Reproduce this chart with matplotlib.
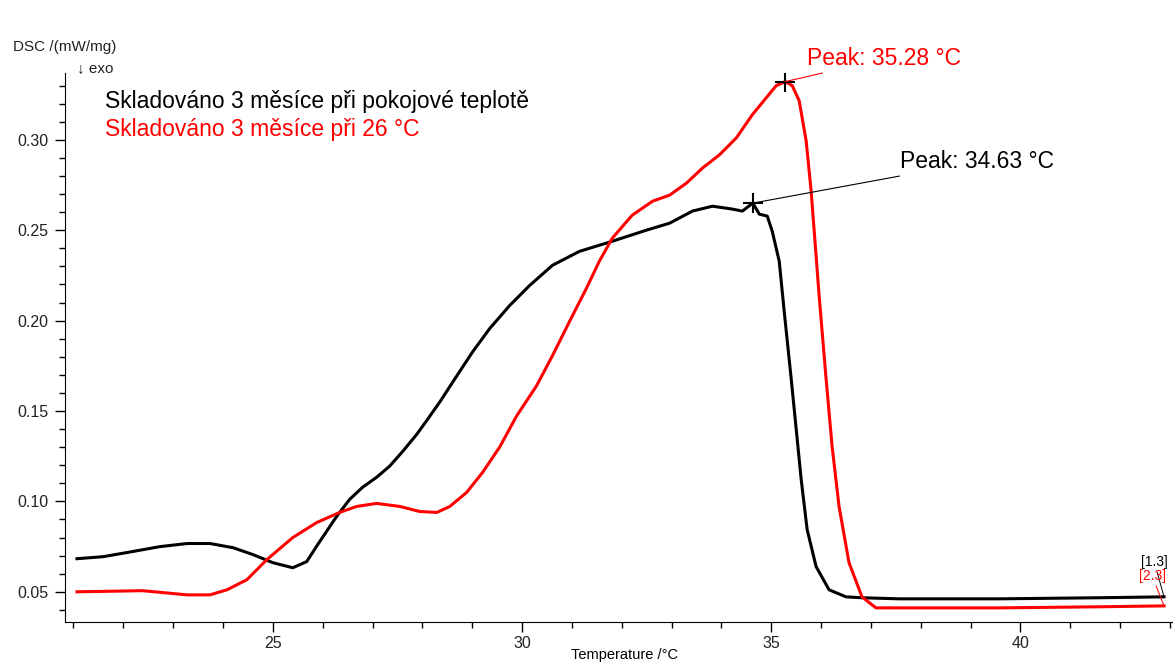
import matplotlib.pyplot as plt
from matplotlib.ticker import MultipleLocator

plt.rcParams['font.family'] = ['Liberation Sans', 'DejaVu Sans']

# DSC curves
temp_black = [21.07, 21.59, 22.07, 22.74, 23.28, 23.74, 24.20, 24.60, 25.00, 25.40,
              25.68, 25.90, 26.28, 26.54, 26.80, 27.08, 27.34, 27.61, 27.89, 28.11,
              28.35, 28.69, 29.01, 29.35, 29.75, 30.15, 30.61, 31.15, 31.81, 32.49,
              32.96, 33.42, 33.82, 34.22, 34.42, 34.63, 34.76, 34.92, 35.02, 35.16,
              35.26, 35.40, 35.50, 35.60, 35.72, 35.90, 36.16, 36.50, 36.82, 37.57,
              39.57, 41.57, 42.88]
dsc_black = [0.0683, 0.0694, 0.0717, 0.0750, 0.0767, 0.0767, 0.0744, 0.0706, 0.0661, 0.0633,
             0.0667, 0.0761, 0.0917, 0.1011, 0.1078, 0.1133, 0.1194, 0.1278, 0.1372, 0.1456,
             0.1550, 0.1694, 0.1828, 0.1956, 0.2083, 0.2194, 0.2306, 0.2383, 0.2439, 0.2500,
             0.2539, 0.2606, 0.2633, 0.2617, 0.2606, 0.2650, 0.2589, 0.2578, 0.2494, 0.2328,
             0.2050, 0.1678, 0.1400, 0.1122, 0.0844, 0.0639, 0.0511, 0.0472, 0.0467, 0.0461,
             0.0461, 0.0467, 0.0472]

temp_red = [21.07, 22.39, 23.28, 23.74, 24.08, 24.48, 24.88, 25.40, 25.88, 26.34,
            26.68, 27.08, 27.55, 27.95, 28.29, 28.55, 28.89, 29.21, 29.55, 29.89,
            30.29, 30.61, 30.95, 31.29, 31.55, 31.81, 32.21, 32.62, 32.96, 33.30,
            33.62, 33.96, 34.30, 34.62, 34.90, 35.10, 35.28, 35.42, 35.56, 35.70,
            35.80, 35.96, 36.10, 36.22, 36.36, 36.56, 36.82, 37.10, 37.57, 39.57,
            41.57, 42.88]
dsc_red = [0.0500, 0.0506, 0.0483, 0.0483, 0.0511, 0.0567, 0.0678, 0.0800, 0.0883, 0.0939,
           0.0972, 0.0989, 0.0972, 0.0944, 0.0939, 0.0972, 0.1050, 0.1161, 0.1300, 0.1472,
           0.1639, 0.1806, 0.1994, 0.2178, 0.2328, 0.2456, 0.2583, 0.2661, 0.2694, 0.2761,
           0.2844, 0.2917, 0.3011, 0.3139, 0.3233, 0.3300, 0.3322, 0.3300, 0.3217, 0.2994,
           0.2717, 0.2139, 0.1678, 0.1306, 0.0972, 0.0661, 0.0472, 0.0411, 0.0411, 0.0411,
           0.0417, 0.0422]

peak_black = (34.63, 0.2650)
peak_red = (35.28, 0.3322)

fig = plt.figure(figsize=(11.73, 6.67), dpi=100)
ax = fig.add_axes([0.0554, 0.0675, 0.9446, 0.8231])

ax.plot(temp_black, dsc_black, color='black', lw=2.2)
ax.plot(temp_red, dsc_red, color='#ff0000', lw=2.2)

# peak markers + leader lines
ax.plot(*peak_black, marker='+', color='black', ms=14, mew=1.5)
ax.plot(*peak_red, marker='+', color='black', ms=14, mew=1.5)
ax.annotate('Peak: 34.63 °C', xy=peak_black, xytext=(37.58, 0.2815),
            fontsize=16.5, color='black', va='bottom', ha='left',
            arrowprops=dict(arrowstyle='-', color='black', lw=0.8, shrinkA=0, shrinkB=0))
ax.annotate('Peak: 35.28 °C', xy=peak_red, xytext=(35.72, 0.3385),
            fontsize=16.5, color='#ff0000', va='bottom', ha='left',
            arrowprops=dict(arrowstyle='-', color='#ff0000', lw=0.8, shrinkA=0, shrinkB=0))

# curve end labels
ax.annotate('[1.3]', xy=(temp_black[-1], dsc_black[-1]), xytext=(42.42, 0.064),
            fontsize=10, color='black', annotation_clip=False,
            arrowprops=dict(arrowstyle='-', color='black', lw=0.7, shrinkA=0, shrinkB=0))
ax.annotate('[2.3]', xy=(temp_red[-1], dsc_red[-1]), xytext=(42.37, 0.0565),
            fontsize=10, color='#ff0000', annotation_clip=False,
            arrowprops=dict(arrowstyle='-', color='#ff0000', lw=0.7, shrinkA=0, shrinkB=0))

ax.set_xlim(20.83, 43.06)
ax.set_ylim(0.0333, 0.337)

ax.xaxis.set_major_locator(MultipleLocator(5))
ax.xaxis.set_minor_locator(MultipleLocator(1))
ax.yaxis.set_major_locator(MultipleLocator(0.05))
ax.yaxis.set_minor_locator(MultipleLocator(0.01))
ax.yaxis.set_major_formatter(plt.FormatStrFormatter('%.2f'))

ax.spines['top'].set_visible(False)
ax.spines['right'].set_visible(False)
ax.tick_params(which='major', length=7, width=1, labelsize=11.5, colors='black', labelcolor='#222222')
ax.tick_params(which='minor', length=4, width=1)
ax.tick_params(axis='x', pad=3)
ax.tick_params(axis='y', pad=5)

ax.set_xlabel('Temperature /°C', fontsize=10.5)
ax.xaxis.set_label_coords(0.505, -0.048)

fig.text(0.011, 0.924, 'DSC /(mW/mg)', fontsize=11, color='#222222')
fig.text(0.066, 0.892, '↓ exo', fontsize=11, color='#222222')
fig.text(0.0895, 0.838, 'Skladováno 3 měsíce při pokojové teplotě', fontsize=16.5, color='black')
fig.text(0.0895, 0.796, 'Skladováno 3 měsíce při 26 °C', fontsize=16.5, color='#ff0000')

fig.savefig('out.png', dpi=100)
